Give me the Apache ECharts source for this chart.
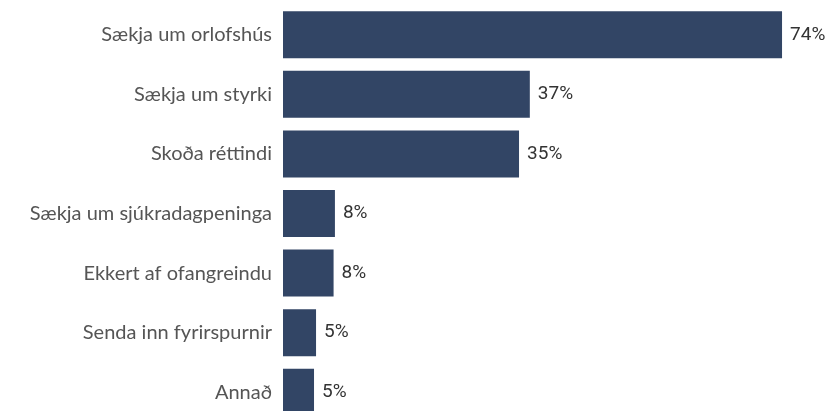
<!DOCTYPE html>
<html><head><meta charset="utf-8">
<script src="https://cdn.jsdelivr.net/npm/echarts@6/dist/echarts.min.js"></script>
<style>html,body{margin:0;padding:0;background:#fff;overflow:hidden}#c{width:833px;height:424px}</style>
</head><body><div id="c"></div>
<script>
const categories = ["Sækja um orlofshús","Sækja um styrki","Skoða réttindi","Sækja um sjúkradagpeninga","Ekkert af ofangreindu","Senda inn fyrirspurnir","Annað"];
const values = [74, 36.6, 35, 7.7, 7.5, 4.9, 4.6];

const chart = echarts.init(document.getElementById('c'));
chart.setOption({
  animation: false,
  grid: {left: 283, top: 5, height: 417, width: 539.5},
  xAxis: {type: 'value', min: 0, max: 80, show: false},
  yAxis: {
    type: 'category', data: categories, inverse: true,
    axisLine: {show: false}, axisTick: {show: false},
    axisLabel: {color: '#555', fontSize: 20, fontFamily: 'Lato', margin: 11}
  },
  series: [{
    type: 'bar', data: values, barWidth: 47,
    itemStyle: {color: '#324565'},
    label: {show: true, position: 'right', distance: 8, color: '#333', fontSize: 19, fontFamily: 'Roboto',
      formatter: p => Math.round(p.value) + '%'}
  }]
});
</script></body></html>
